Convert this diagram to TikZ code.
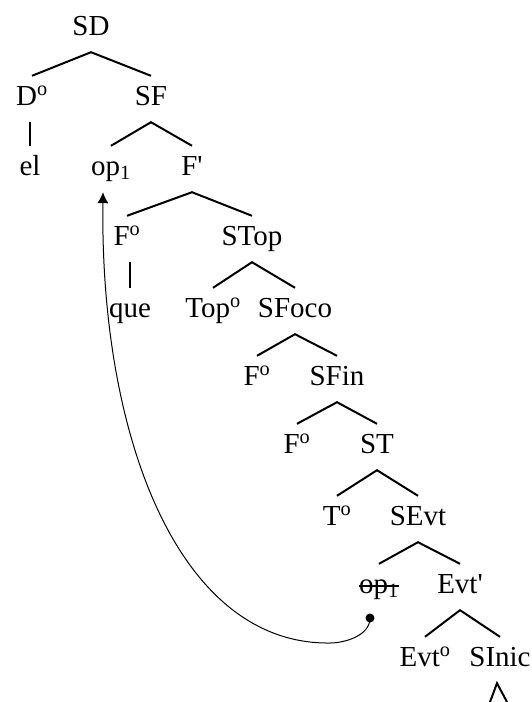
\documentclass[tikz,border=0pt]{standalone}
\usepackage{fontspec}
\setmainfont{Liberation Serif}[Ligatures=TeXOff]
\usetikzlibrary{arrows.meta}

\newcommand\tachado[1]{\setbox0\hbox{#1}\rlap{\rule[0.21em]{\wd0}{0.055em}}\box0}
\newcommand\grado{\textsuperscript{o}}

\begin{document}
\begin{tikzpicture}[
  x=1pt, y=-1pt,
  cat/.style={anchor=base, font=\fontsize{29}{31}\selectfont,
    text height=22pt, text depth=10pt, inner xsep=1pt, inner ysep=7pt},
  rama/.style={line width=2pt},
  huella/.style={circle, fill, inner sep=0pt, minimum size=9pt}
]
\useasboundingbox (0,0) rectangle (532,702);

\node[cat] (SD) at (91,35) {SD};
\node[cat] (Do) at (32,105) {D\grado};
\node[cat] (SF) at (151,105) {SF};
\node[cat] (el) at (30,175) {el};
\node[cat] (op) at (111,175) {op\textsubscript{1}};
\node[cat] (Fbar) at (192,175) {F'};
\node[cat] (Fo) at (127,245) {F\grado};
\node[cat] (STop) at (252,245) {STop};
\node[cat] (que) at (130,317) {que};
\node[cat] (Topo) at (213,317) {Top\grado};
\node[cat] (SFoco) at (295,317) {SFoco};
\node[cat] (Foco) at (257,385) {F\grado};
\node[cat] (SFin) at (337,385) {SFin};
\node[cat] (Fino) at (297,453) {F\grado};
\node[cat] (ST) at (377,453) {ST};
\node[cat] (To) at (337,525) {T\grado};
\node[cat] (SEvt) at (418,525) {SEvt};
\node[cat] (opcopia) at (379,593) {\tachado{op\textsubscript{1}}};
\node[cat] (Evtbar) at (460,593) {Evt'};
\node[cat] (Evto) at (425,666) {Evt\grado};
\node[cat] (SInic) at (500,666) {SInic};

\draw[rama] (Do.north) -- (SD.south) -- (SF.north);
\draw[rama] (el.north |- Do.south) -- (el.north);
\draw[rama] (op.north) -- (SF.south) -- (Fbar.north);
\draw[rama] (Fo.north) -- (Fbar.south) -- (STop.north);
\draw[rama] (que.north |- Fo.south) -- (que.north);
\draw[rama] (Topo.north) -- (STop.south) -- (SFoco.north);
\draw[rama] (Foco.north) -- (SFoco.south) -- (SFin.north);
\draw[rama] (Fino.north) -- (SFin.south) -- (ST.north);
\draw[rama] (To.north) -- (ST.south) -- (SEvt.north);
\draw[rama] (opcopia.north) -- (SEvt.south) -- (Evtbar.north);
\draw[rama] (Evto.north) -- (Evtbar.south) -- (SInic.north);

% triangulo bajo SInic
\coordinate (baseizq) at (490,702);
\coordinate (baseder) at (507,702);
\draw[rama] (baseizq) -- ([xshift=-3pt]SInic.south) -- (baseder);

% movimiento del operador
\node[huella] (rastro) at (370,618) {};
\draw[line width=1pt, -{Latex[length=11pt,width=11pt]}] (rastro.center)
  .. controls +(0,18) and +(14,0) .. (330,643)
  .. controls (180,645) and (100,440) .. ([xshift=-8pt]op.south);
\end{tikzpicture}
\end{document}
